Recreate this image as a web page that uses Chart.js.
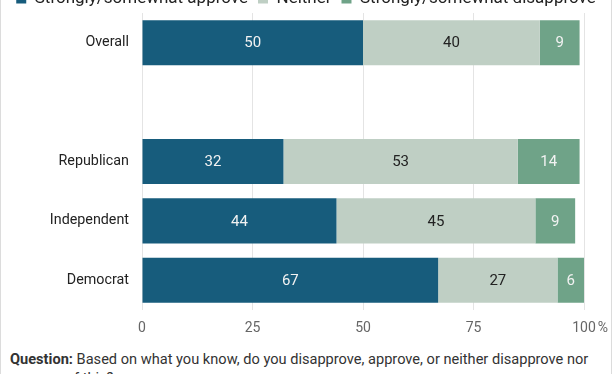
<!DOCTYPE html>
<html>
<head>
<meta charset="utf-8">
<script src="https://cdn.jsdelivr.net/npm/chart.js@4/dist/chart.umd.min.js"></script>
<style>
  html, body { margin: 0; padding: 0; background: #fff; overflow: hidden; }
  body { width: 612px; height: 374px; position: relative; font-family: Roboto, sans-serif; }
  .frame { position: absolute; left: 0; top: 0; width: 610px; height: 374px;
    border-left: 1px solid #dcdcdc; border-right: 1px solid #dcdcdc; overflow: hidden; }
  .wrap { position: absolute; left: 0; top: -20px; width: 610px; height: 360px; }
  .question { position: absolute; left: 9px; top: 350px; width: 598px;
    font-size: 14.6px; line-height: 19px; color: #333; }
  .question b { font-weight: 700; }
</style>
</head>
<body>
<div class="frame">
  <div class="wrap"><canvas id="chart"></canvas></div>
  <div class="question"><b>Question:</b> Based on what you know, do you disapprove, approve, or neither disapprove nor approve of this?</div>
</div>
<script>
/* global Chart */

const categories = ['Overall', '', 'Republican', 'Independent', 'Democrat']
const seriesNames = ['Strongly/somewhat approve', 'Neither', 'Strongly/somewhat disapprove']
const approve = [50, null, 32, 44, 67]
const neither = [40, null, 53, 45, 27]
const disapprove = [9, null, 14, 9, 6]
const xTicks = [0, 25, 50, 75, 100]

const colors = ['#175c7c', '#bfcfc4', '#6fa388']
const labelColors = ['#f2f2f2', '#222222', '#f2f2f2']

const valueLabels = {
  id: 'valueLabels',
  afterDatasetsDraw (chart) {
    const ctx = chart.ctx
    ctx.save()
    ctx.font = '15px Roboto'
    ctx.textAlign = 'center'
    ctx.textBaseline = 'middle'
    chart.data.datasets.forEach((ds, i) => {
      chart.getDatasetMeta(i).data.forEach((bar, j) => {
        const v = ds.data[j]
        if (v == null) return
        const p = bar.getCenterPoint()
        ctx.fillStyle = labelColors[i]
        ctx.fillText(String(v), p.x, p.y + 1)
      })
    })
    ctx.restore()
  }
}

// "%" after the last tick, like the original
const percentSign = {
  id: 'percentSign',
  afterDraw (chart) {
    const scale = chart.scales.x
    const ctx = chart.ctx
    ctx.save()
    ctx.font = '14px Roboto'
    const w = ctx.measureText('100').width
    ctx.fillStyle = '#666'
    ctx.textAlign = 'left'
    ctx.textBaseline = 'middle'
    ctx.fillText('%', scale.getPixelForValue(100) + w / 2 + 2, scale.top + 10 + 8)
    ctx.restore()
  }
}

const data = {
  labels: categories,
  datasets: [approve, neither, disapprove].map((vals, i) => ({
    label: seriesNames[i],
    data: vals,
    backgroundColor: colors[i],
    borderWidth: 0,
    barPercentage: 0.76,
    categoryPercentage: 1
  }))
}

new Chart(document.getElementById('chart'), {
  type: 'bar',
  data,
  options: {
    indexAxis: 'y',
    responsive: true,
    maintainAspectRatio: false,
    animation: false,
    layout: { padding: 0 },
    plugins: {
      legend: {
        position: 'top',
        maxHeight: 33,
        labels: {
          font: { family: 'Roboto', size: 17 },
          color: '#222',
          boxWidth: 10,
          boxHeight: 10,
          padding: 10
        }
      },
      tooltip: { enabled: false }
    },
    scales: {
      x: {
        stacked: true,
        min: 0,
        max: 100,
        afterBuildTicks (scale) { scale.ticks = xTicks.map(v => ({ value: v })) },
        afterFit (scale) { scale.height = 30 },
        grid: { color: '#e4e4e4', drawTicks: false },
        border: { display: false },
        ticks: {
          font: { family: 'Roboto', size: 14 },
          color: '#666',
          padding: 10,
          maxRotation: 0
        }
      },
      y: {
        stacked: true,
        afterFit (scale) { scale.width = 141 },
        grid: { display: false, drawTicks: false },
        border: { display: false },
        ticks: {
          font: { family: 'Roboto', size: 14.3 },
          color: '#222',
          padding: 13
        }
      },
      // empty right-hand axis: keeps room on the right without squeezing the legend
      yRight: {
        type: 'category',
        axis: 'y',
        position: 'right',
        afterFit (scale) { scale.width = 27 },
        grid: { display: false, drawTicks: false },
        border: { display: false },
        ticks: { display: false }
      }
    }
  },
  plugins: [valueLabels, percentSign]
})
</script>
</body>
</html>
